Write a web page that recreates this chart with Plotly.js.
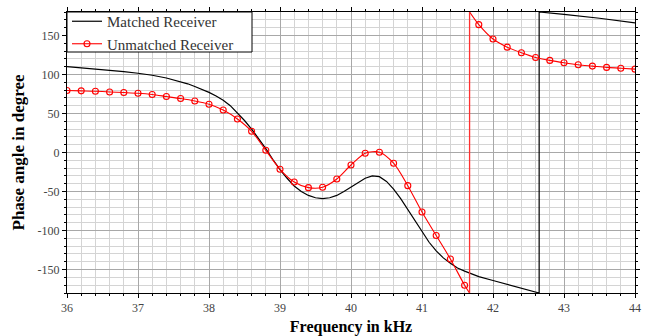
<!DOCTYPE html>
<html>
<head>
<meta charset="utf-8">
<script src="https://cdn.plot.ly/plotly-3.0.1.min.js"></script>
<style>html,body{margin:0;padding:0;background:#fff;}#chart{width:648px;height:336px;}</style>
</head>
<body>
<div id="chart"></div>
<script>
// Matched receiver (black, continuous curve, wraps at ±180)
const freqMatched = [36.0,36.2,36.4,36.6,36.8,37.0,37.2,37.4,37.6,37.7,37.8,37.9,38.0,38.1,38.2,38.3,38.4,38.5,38.6,38.7,38.8,38.9,39.0,39.1,39.2,39.3,39.4,39.5,39.6,39.7,39.8,39.9,40.0,40.1,40.2,40.3,40.4,40.5,40.6,40.7,40.8,40.9,41.0,41.1,41.2,41.3,41.4,41.5,41.6,41.8,42.0,42.2,42.4,42.6,42.65,42.65,42.8,43.0,43.5,44.0];
const phaseMatched = [110,108.5,107,105.5,103.5,101.5,99,95.5,91,88,84.5,81,77,72.5,67,60,51,41,30,18,5,-9,-22,-33,-43,-50,-55,-58,-59,-58,-55,-50,-44,-38,-33,-30,-31,-37,-47,-59,-73,-88,-102,-115,-126,-135,-142,-148,-152,-159,-164,-169,-173,-178,-180,180,179,177,172,166];

// Unmatched receiver (red, measured every 0.2 kHz)
const freqUnmatched = [36.0,36.2,36.4,36.6,36.8,37.0,37.2,37.4,37.6,37.8,38.0,38.2,38.4,38.6,38.8,39.0,39.2,39.4,39.6,39.8,40.0,40.2,40.4,40.6,40.8,41.0,41.2,41.4,41.6,41.8,42.0,42.2,42.4,42.6,42.8,43.0,43.2,43.4,43.6,43.8,44.0];
const phaseUnmatched = [79.5,79,78.5,77.6,76.8,75.9,74.3,71.7,69.1,66,61.8,54.4,43,27.2,2.8,-21.5,-37.8,-45,-44.6,-34,-16,-1,0.4,-13.7,-42.5,-76.3,-106.4,-136.5,-170,163.8,145.4,135,127.8,121.8,118,115,112.4,110.7,109,108,106.8];
// phase wrap of the unmatched curve
const wrapFreqUnmatched = 41.67;

const xTicks = [36,37,38,39,40,41,42,43,44];
const yTicks = [-150,-100,-50,0,50,100,150];

// Build red line path: smooth segment, vertical wrap, smooth segment (null gap splits them)
const iWrap = freqUnmatched.indexOf(41.6);
const redAX = freqUnmatched.slice(0, iWrap + 1).concat([wrapFreqUnmatched]);
const redAY = phaseUnmatched.slice(0, iWrap + 1).concat([-180]);
const redBX = [wrapFreqUnmatched].concat(freqUnmatched.slice(iWrap + 1));
const redBY = [180].concat(phaseUnmatched.slice(iWrap + 1));

const serif = "Liberation Serif, DejaVu Serif, serif";
const redMarker = {symbol: 'circle-open', size: 6, color: '#ff0000', line: {width: 1.1, color: '#ff0000'}};

const traces = [
  {x: freqMatched, y: phaseMatched, mode: 'lines', name: 'Matched Receiver',
   line: {color: '#000', width: 1.2}},
  {x: redAX.concat([null]).concat(redBX), y: redAY.concat([null]).concat(redBY), mode: 'lines', showlegend: false, connectgaps: false,
   line: {color: '#ff0000', width: 1.1, shape: 'spline', smoothing: 0.8}},
  {x: [wrapFreqUnmatched, wrapFreqUnmatched], y: [-180, 180], mode: 'lines', showlegend: false,
   line: {color: '#ff3030', width: 1.3}},
  {x: freqUnmatched, y: phaseUnmatched, mode: 'markers', showlegend: false, marker: redMarker},
  {x: [null], y: [null], mode: 'lines+markers', name: 'Unmatched Receiver',
   line: {color: '#ff0000', width: 1.1}, marker: redMarker}
];

const axisCommon = {
  showline: true, linecolor: '#000', linewidth: 1, mirror: 'allticks',
  ticks: 'outside', ticklen: 4, tickcolor: '#000', tickwidth: 1,
  gridcolor: '#a8a8a8', gridwidth: 1, zeroline: false,
  tickfont: {family: serif, size: 12, color: '#444'}
};

const plotH = 336 - 12 - 43;
const plotW = 648 - 67 - 13;

const layout = {
  width: 648, height: 336,
  margin: {l: 67, r: 13, t: 12, b: 43, autoexpand: false},
  paper_bgcolor: '#fff', plot_bgcolor: '#fff',
  showlegend: true,
  legend: {x: 0, y: 1 - 5 / 336, xref: 'paper', yref: 'container', xanchor: 'left', yanchor: 'top',
    bgcolor: 'rgba(0,0,0,0)', borderwidth: 0,
    font: {family: serif, size: 15, color: '#333'},
    tracegroupgap: 0, itemwidth: 30},
  shapes: [{type: 'rect', xref: 'paper', yref: 'paper', layer: 'above',
    x0: 0, x1: (252 - 67) / plotW, y0: 1 - 40 / plotH, y1: 1,
    fillcolor: '#fff', line: {color: '#000', width: 1}}],
  xaxis: Object.assign({}, axisCommon, {
    range: [36, 44], tickmode: 'array', tickvals: xTicks, ticktext: xTicks.map(String),
    minor: {dtick: 0.2, tick0: 36, ticks: 'outside', ticklen: 2, tickcolor: '#000', showgrid: true, gridcolor: '#d4d4d4', gridwidth: 1},
    title: {text: 'Frequency in kHz', font: {family: serif, size: 16, color: '#000', weight: 'bold'}, standoff: 6}
  }),
  yaxis: Object.assign({}, axisCommon, {
    range: [-180, 180], tickmode: 'array', tickvals: yTicks, ticktext: yTicks.map(String),
    minor: {dtick: 10, tick0: 0, ticks: 'outside', ticklen: 2, tickcolor: '#000', showgrid: true, gridcolor: '#d4d4d4', gridwidth: 1},
    title: {text: 'Phase angle in degree', font: {family: serif, size: 17, color: '#000', weight: 'bold'}, standoff: 8}
  })
};

Plotly.newPlot('chart', traces, layout, {displayModeBar: false, staticPlot: true});
</script>
</body>
</html>
